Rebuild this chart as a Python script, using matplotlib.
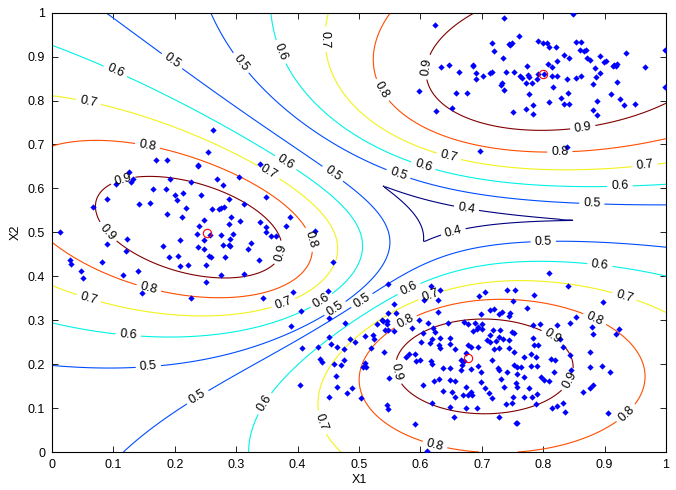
import numpy as np
import matplotlib
matplotlib.use('Agg')
import matplotlib.pyplot as plt
from matplotlib.ticker import FuncFormatter

plt.rcParams['font.family'] = ['Liberation Sans', 'DejaVu Sans']

# cluster centres (red circles)
centre_x = [0.253, 0.800, 0.678]
centre_y = [0.498, 0.860, 0.215]

# fuzzy membership model (m = 2) behind the contour lines
model_cx = [0.2506, 0.8074, 0.6816]
model_cy = [0.4993, 0.8611, 0.2099]
model_sx = [0.4116, 0.4336, 0.4031]
model_sy = [0.3239, 0.3008, 0.2982]
model_r = [-0.4043, 0.1908, -0.0268]
model_exp = 0.9971
levels = [0.4, 0.5, 0.6, 0.7, 0.8, 0.9]

# data points
left_pts = [
    (0.170, 0.664), (0.188, 0.664), (0.237, 0.652), (0.125, 0.637), (0.132, 0.621), (0.128, 0.615), (0.192, 0.621),
    (0.104, 0.611), (0.164, 0.599), (0.185, 0.598), (0.201, 0.584), (0.213, 0.589), (0.203, 0.573), (0.090, 0.575),
    (0.142, 0.564), (0.159, 0.567), (0.066, 0.557), (0.219, 0.555), (0.188, 0.541), (0.211, 0.534), (0.236, 0.496),
    (0.122, 0.485), (0.089, 0.474), (0.209, 0.482), (0.180, 0.469), (0.237, 0.466), (0.120, 0.458), (0.190, 0.444),
    (0.206, 0.447), (0.222, 0.425), (0.209, 0.423), (0.029, 0.436), (0.031, 0.427), (0.081, 0.432), (0.048, 0.411),
    (0.051, 0.397), (0.140, 0.413), (0.116, 0.403), (0.146, 0.362), (0.227, 0.351), (0.263, 0.732), (0.254, 0.682),
    (0.238, 0.653), (0.338, 0.655), (0.304, 0.625), (0.269, 0.621), (0.278, 0.607), (0.227, 0.615), (0.243, 0.586),
    (0.348, 0.581), (0.288, 0.575), (0.312, 0.564), (0.276, 0.556), (0.280, 0.558), (0.272, 0.554), (0.260, 0.553),
    (0.292, 0.536), (0.387, 0.536), (0.248, 0.528), (0.306, 0.525), (0.339, 0.523), (0.381, 0.514), (0.289, 0.519),
    (0.239, 0.514), (0.348, 0.513), (0.429, 0.504), (0.257, 0.495), (0.275, 0.493), (0.294, 0.496), (0.348, 0.501),
    (0.357, 0.492), (0.365, 0.492), (0.247, 0.483), (0.290, 0.484), (0.324, 0.475), (0.278, 0.472), (0.288, 0.472),
    (0.290, 0.469), (0.320, 0.463), (0.247, 0.462), (0.255, 0.446), (0.259, 0.445), (0.281, 0.443), (0.337, 0.436),
    (0.250, 0.425), (0.276, 0.402), (0.312, 0.405), (0.250, 0.386), (0.458, 0.432), (0.393, 0.365), (0.344, 0.351),
    (0.013, 0.500),
]
top_pts = [
    (0.624, 0.973), (0.736, 0.987), (0.717, 0.932), (0.720, 0.912), (0.745, 0.928), (0.735, 0.898), (0.633, 0.876),
    (0.647, 0.880), (0.663, 0.864), (0.686, 0.882), (0.686, 0.878), (0.691, 0.862), (0.691, 0.849), (0.702, 0.857),
    (0.713, 0.862), (0.716, 0.865), (0.739, 0.864), (0.733, 0.840), (0.731, 0.836), (0.736, 0.825), (0.598, 0.821),
    (0.658, 0.818), (0.676, 0.818), (0.651, 0.784), (0.625, 0.777), (0.697, 0.686), (0.849, 0.998), (0.761, 0.946),
    (0.749, 0.931), (0.746, 0.927), (0.791, 0.935), (0.800, 0.930), (0.807, 0.930), (0.810, 0.921), (0.821, 0.921),
    (0.854, 0.933), (0.861, 0.933), (0.860, 0.915), (0.867, 0.913), (0.870, 0.916), (0.834, 0.903), (0.842, 0.896),
    (0.872, 0.896), (0.877, 0.892), (0.893, 0.902), (0.935, 0.909), (0.999, 0.916), (0.808, 0.884), (0.823, 0.890),
    (0.815, 0.877), (0.774, 0.878), (0.753, 0.864), (0.763, 0.856), (0.765, 0.852), (0.776, 0.858), (0.777, 0.853),
    (0.791, 0.860), (0.790, 0.849), (0.802, 0.861), (0.815, 0.855), (0.823, 0.855), (0.838, 0.848), (0.854, 0.852),
    (0.861, 0.855), (0.885, 0.873), (0.892, 0.863), (0.899, 0.887), (0.902, 0.890), (0.916, 0.881), (0.920, 0.883),
    (0.918, 0.878), (0.913, 0.879), (0.966, 0.877), (0.886, 0.853), (0.881, 0.837), (0.920, 0.843), (0.999, 0.830),
    (0.772, 0.839), (0.782, 0.839), (0.816, 0.831), (0.841, 0.817), (0.777, 0.814), (0.829, 0.805), (0.809, 0.797),
    (0.834, 0.793), (0.842, 0.793), (0.783, 0.791), (0.910, 0.816), (0.925, 0.803), (0.932, 0.791), (0.950, 0.793),
    (0.887, 0.799), (0.751, 0.774), (0.772, 0.780), (0.784, 0.769), (0.881, 0.778), (0.887, 0.767), (0.838, 0.695),
]
bottom_pts = [
    (0.449, 0.366), (0.405, 0.322), (0.547, 0.383), (0.451, 0.304), (0.390, 0.287), (0.477, 0.293), (0.530, 0.292),
    (0.539, 0.299), (0.546, 0.292), (0.547, 0.278), (0.451, 0.261), (0.486, 0.257), (0.494, 0.250), (0.509, 0.263),
    (0.523, 0.267), (0.524, 0.258), (0.407, 0.236), (0.433, 0.238), (0.455, 0.245), (0.464, 0.240), (0.475, 0.234),
    (0.520, 0.237), (0.436, 0.212), (0.439, 0.205), (0.475, 0.209), (0.459, 0.200), (0.470, 0.197), (0.509, 0.202),
    (0.506, 0.193), (0.512, 0.193), (0.462, 0.174), (0.404, 0.152), (0.464, 0.147), (0.488, 0.146), (0.481, 0.134),
    (0.451, 0.125), (0.504, 0.122), (0.546, 0.106), (0.547, 0.099),
    (0.618, 0.378), (0.632, 0.369), (0.705, 0.364), (0.695, 0.356), (0.741, 0.368), (0.557, 0.337), (0.628, 0.345),
    (0.606, 0.346), (0.628, 0.318), (0.547, 0.316), (0.560, 0.316), (0.699, 0.313), (0.714, 0.323), (0.720, 0.325),
    (0.728, 0.313), (0.733, 0.318), (0.746, 0.317), (0.744, 0.309), (0.537, 0.300), (0.545, 0.298), (0.543, 0.278),
    (0.557, 0.275), (0.586, 0.283), (0.597, 0.300), (0.613, 0.293), (0.621, 0.283), (0.624, 0.273), (0.645, 0.293),
    (0.671, 0.297), (0.677, 0.291), (0.689, 0.293), (0.693, 0.285), (0.692, 0.279), (0.685, 0.275), (0.700, 0.291),
    (0.700, 0.280), (0.718, 0.278), (0.714, 0.266), (0.730, 0.278), (0.728, 0.262), (0.734, 0.257), (0.744, 0.255),
    (0.749, 0.274), (0.604, 0.272), (0.619, 0.258), (0.615, 0.247), (0.601, 0.250), (0.632, 0.260), (0.630, 0.244),
    (0.632, 0.237), (0.648, 0.260), (0.649, 0.245), (0.656, 0.234), (0.677, 0.244), (0.683, 0.240), (0.694, 0.240),
    (0.709, 0.255), (0.713, 0.251), (0.723, 0.253), (0.720, 0.234), (0.728, 0.236), (0.744, 0.236), (0.541, 0.228),
    (0.577, 0.217), (0.581, 0.222), (0.591, 0.222), (0.600, 0.209), (0.593, 0.207), (0.617, 0.207), (0.619, 0.200),
    (0.636, 0.191), (0.649, 0.191), (0.668, 0.197), (0.671, 0.207), (0.666, 0.187), (0.682, 0.188), (0.693, 0.196),
    (0.698, 0.183), (0.717, 0.209), (0.728, 0.187), (0.741, 0.183), (0.757, 0.194), (0.549, 0.168), (0.605, 0.152),
    (0.622, 0.162), (0.631, 0.167), (0.649, 0.164), (0.656, 0.162), (0.636, 0.139), (0.652, 0.137), (0.656, 0.125),
    (0.674, 0.149), (0.682, 0.137), (0.670, 0.130), (0.677, 0.130), (0.684, 0.130), (0.698, 0.160), (0.706, 0.146),
    (0.712, 0.135), (0.717, 0.122), (0.732, 0.166), (0.736, 0.149), (0.739, 0.109), (0.727, 0.191), (0.758, 0.149),
    (0.619, 0.111), (0.649, 0.103), (0.675, 0.100), (0.692, 0.100), (0.654, 0.080), (0.591, 0.064), (0.728, 0.080),
    (0.757, 0.067), (0.611, 0.002), (0.675, 0.226), (0.666, 0.209),
    (0.810, 0.408), (0.841, 0.379), (0.754, 0.368), (0.785, 0.357), (0.898, 0.342), (0.751, 0.343), (0.773, 0.327),
    (0.854, 0.307), (0.784, 0.288), (0.795, 0.291), (0.823, 0.289), (0.843, 0.293), (0.880, 0.285), (0.924, 0.279),
    (0.918, 0.268), (0.881, 0.268), (0.753, 0.271), (0.783, 0.259), (0.791, 0.244), (0.785, 0.244), (0.828, 0.257),
    (0.832, 0.240), (0.752, 0.228), (0.769, 0.216), (0.780, 0.224), (0.788, 0.217), (0.843, 0.220), (0.877, 0.227),
    (0.812, 0.211), (0.820, 0.209), (0.752, 0.198), (0.764, 0.193), (0.780, 0.196), (0.790, 0.196), (0.846, 0.187),
    (0.817, 0.183), (0.877, 0.193), (0.896, 0.196), (0.908, 0.182), (0.757, 0.178), (0.769, 0.170), (0.755, 0.158),
    (0.796, 0.171), (0.802, 0.164), (0.810, 0.162), (0.777, 0.145), (0.877, 0.145), (0.881, 0.152), (0.865, 0.136),
    (0.751, 0.126), (0.769, 0.126), (0.781, 0.126), (0.790, 0.131), (0.749, 0.111), (0.788, 0.109), (0.815, 0.100),
    (0.823, 0.105), (0.832, 0.111), (0.836, 0.092), (0.905, 0.089), (0.755, 0.065),
]

# where the contour labels sit in the reference
label_pos = [
    (0.193, 0.885), (0.307, 0.885), (0.368, 0.908), (0.454, 0.94), (0.10, 0.857), (0.059, 0.794),
    (0.538, 0.824), (0.613, 0.876), (0.865, 0.733), (0.827, 0.687), (0.645, 0.664), (0.604, 0.648),
    (0.564, 0.632), (0.458, 0.635), (0.380, 0.657), (0.352, 0.635), (0.155, 0.694),
    (0.925, 0.598), (0.966, 0.646), (0.879, 0.56), (0.675, 0.554), (0.653, 0.505), (0.80, 0.482),
    (0.892, 0.423), (0.932, 0.353), (0.883, 0.30), (0.812, 0.255), (0.842, 0.164), (0.938, 0.084),
    (0.625, 0.023), (0.437, 0.066), (0.344, 0.112), (0.235, 0.13), (0.157, 0.193), (0.124, 0.266),
    (0.059, 0.346), (0.157, 0.369), (0.09, 0.50), (0.116, 0.617), (0.372, 0.453), (0.416, 0.482),
    (0.377, 0.339), (0.44, 0.342), (0.462, 0.325), (0.506, 0.342), (0.584, 0.364), (0.617, 0.355),
    (0.576, 0.296), (0.556, 0.18),
]

# matlab jet colours for the six levels
line_colors = [(0, 0, 0.5), (0, 0.3, 1), (0, 0.95, 0.9), (0.95, 0.95, 0.1), (1, 0.3, 0), (0.5, 0, 0)]


def membership(X, Y):
    logs = []
    for cx, cy, sx, sy, r in zip(model_cx, model_cy, model_sx, model_sy, model_r):
        dx = (X - cx) / sx
        dy = (Y - cy) / sy
        q = (dx * dx - 2 * r * dx * dy + dy * dy) / (1 - r * r)
        logs.append(-model_exp * np.log(q + 1e-12))
    L = np.array(logs)
    E = np.exp(L - L.max(0))
    return (E / E.sum(0)).max(0)


g = np.linspace(0, 1, 401)
X, Y = np.meshgrid(g, g)
Z = membership(X, Y)

fig = plt.figure(figsize=(6.76, 4.90), dpi=100)
ax = fig.add_axes([52 / 676, 1 - 452 / 490, 614 / 676, 439.3 / 490])

cs = ax.contour(X, Y, Z, levels=levels, colors=line_colors, linewidths=0.8)
ax.clabel(cs, manual=label_pos, inline=True, inline_spacing=4, fontsize=9, fmt='%.1f', colors='k')

for pts in [left_pts, top_pts, bottom_pts]:
    px = [p[0] for p in pts]
    py = [p[1] for p in pts]
    ax.plot(px, py, 'D', color=(0, 0, 1), ms=3.2, mew=0, zorder=3)
ax.plot(centre_x, centre_y, 'o', mfc='none', mec='red', ms=6, mew=0.8, zorder=4)

ax.set_xlim(0, 1)
ax.set_ylim(0, 1)
ticks = np.arange(0, 1.01, 0.1)
ax.set_xticks(ticks)
ax.set_yticks(ticks)
fmt = FuncFormatter(lambda v, p: '%g' % round(v, 1))
ax.xaxis.set_major_formatter(fmt)
ax.yaxis.set_major_formatter(fmt)
ax.tick_params(direction='in', top=True, right=True, length=4.5, width=0.6, labelsize=9, pad=5)
for sp in ax.spines.values():
    sp.set_linewidth(0.8)
ax.set_xlabel('X1', fontsize=9, labelpad=2)
ax.set_ylabel('X2', fontsize=9, labelpad=4)

fig.savefig('out.png')
